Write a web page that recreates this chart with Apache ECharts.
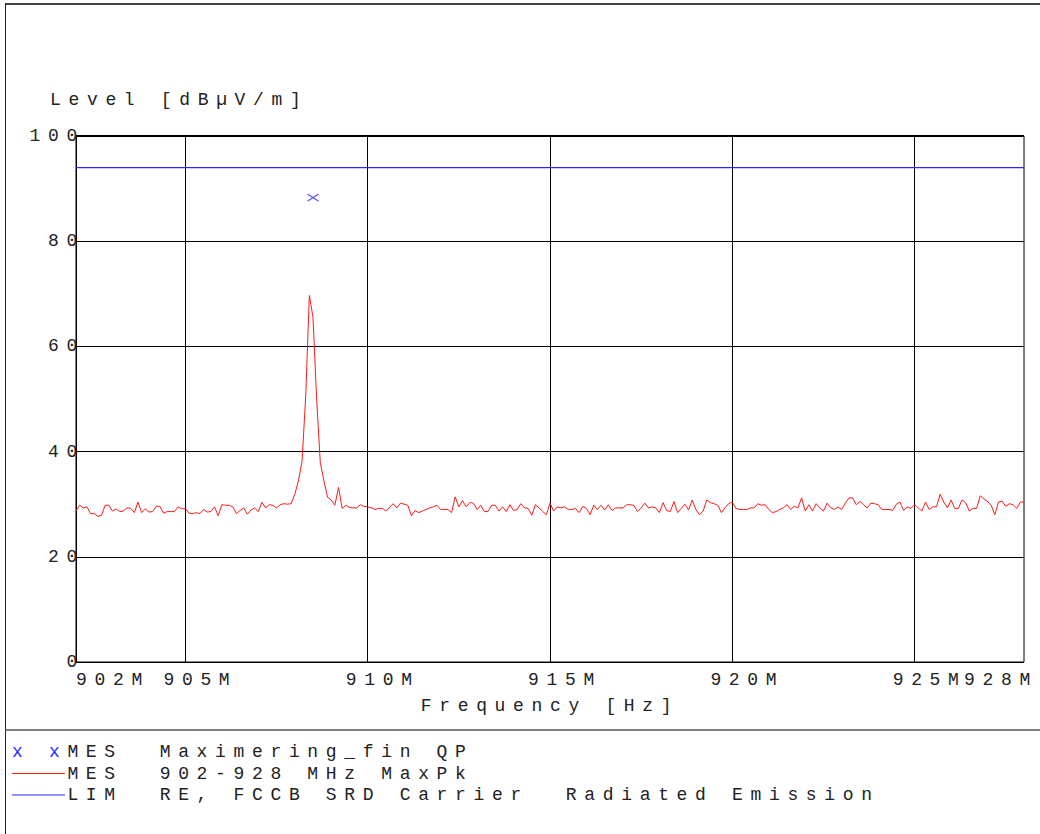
<!DOCTYPE html>
<html>
<head>
<meta charset="utf-8">
<script src="https://cdn.jsdelivr.net/npm/echarts@6/dist/echarts.min.js"></script>
<style>
  html, body { margin: 0; padding: 0; background: #fff; }
  #chart { width: 1040px; height: 834px; }
  /* plotter-style wide monospace lettering */
  #chart svg text { letter-spacing: 7.66px; white-space: pre; }
</style>
</head>
<body>
<div id="chart"></div>
<script>
// Sweep: 902.0 .. 928.0 MHz in 0.1 MHz steps, MaxPk level in dBµV/m
const sweepStartMHz = 902.0;
const sweepStepMHz = 0.1;
const maxPkLevels = [
  28.7, 29.8, 29.3, 29.5, 28.2, 28.2, 27.7, 27.9, 29.8, 29.8,
  28.7, 29.1, 28.6, 28.7, 29.3, 29.2, 28.4, 30.4, 28.4, 29.1,
  28.5, 28.6, 29.6, 29.6, 28.3, 28.6, 28.6, 28.6, 29.5, 29.1,
  29.2, 28.3, 28.2, 28.4, 28.2, 29.0, 28.5, 28.6, 29.5, 27.8,
  29.9, 29.8, 29.8, 29.5, 28.2, 28.8, 29.3, 28.1, 28.9, 29.3,
  28.6, 30.4, 29.3, 29.9, 29.8, 29.3, 29.9, 30.1, 30.0, 30.1,
  31.9, 34.4, 38.2, 50.5, 69.7, 65.5, 50.0, 37.9, 34.4, 31.3,
  30.8, 29.8, 33.2, 29.2, 29.8, 29.4, 29.3, 29.3, 29.9, 29.6,
  29.5, 29.3, 29.0, 29.2, 29.2, 28.7, 29.4, 30.1, 29.3, 30.2,
  30.0, 29.8, 27.8, 28.8, 28.4, 28.7, 29.0, 29.3, 29.5, 29.8,
  29.0, 29.0, 29.0, 28.4, 31.4, 29.5, 30.7, 29.5, 30.3, 30.2,
  29.0, 29.8, 28.6, 28.6, 29.8, 29.8, 28.7, 29.5, 28.6, 29.9,
  28.8, 29.0, 30.1, 29.3, 29.2, 27.9, 29.9, 29.3, 28.6, 28.0,
  30.2, 28.7, 29.5, 29.3, 29.5, 29.0, 29.0, 29.2, 28.4, 29.6,
  29.2, 28.0, 29.8, 29.0, 29.8, 28.9, 29.9, 28.8, 29.3, 29.3,
  29.3, 29.9, 29.9, 29.8, 28.6, 29.3, 30.2, 29.3, 29.5, 29.3,
  28.4, 30.3, 28.8, 28.6, 30.5, 28.4, 29.2, 30.0, 28.9, 30.8,
  29.0, 28.0, 28.7, 30.8, 30.3, 30.1, 29.8, 28.4, 29.3, 30.1,
  30.4, 29.2, 29.0, 29.0, 29.0, 29.3, 29.3, 30.1, 29.8, 29.9,
  29.0, 28.4, 28.6, 29.0, 29.3, 29.9, 29.0, 29.6, 29.3, 31.2,
  28.7, 29.9, 28.7, 30.1, 29.3, 28.7, 30.2, 29.3, 29.0, 29.5,
  29.0, 30.2, 31.2, 31.2, 29.9, 30.5, 29.9, 29.3, 30.2, 30.1,
  29.9, 29.0, 29.0, 29.0, 28.8, 30.0, 30.4, 28.8, 29.5, 29.2,
  29.9, 29.3, 28.7, 30.4, 29.0, 29.5, 29.5, 31.9, 30.4, 29.3,
  30.8, 29.2, 29.2, 30.8, 30.3, 28.7, 29.2, 29.2, 31.6, 31.0,
  30.5, 29.8, 28.0, 30.4, 30.6, 29.6, 30.1, 29.9, 29.2, 30.4,
  30.4
];

// Limit line (RE, FCCB SRD Carrier)
const limitFreqs = [902, 928];
const limitLevels = [94, 94];

// Final quasi-peak measurement
const qpFreqs = [908.5];
const qpLevels = [88.3];

// Axis ticks
const freqEdgeLow = [902];
const freqInner = [905, 910, 915, 920, 925];
const freqEdgeHigh = [928];
const levelMin = 0, levelMax = 100, levelStep = 20;

// Legend rows
const legendTags = ['MES', 'MES', 'LIM'];
const legendNames = ['Maximering_fin QP', '902-928 MHz MaxPk', 'RE, FCCB SRD Carrier  Radiated Emission'];

const FONT = '"Liberation Mono", "DejaVu Sans Mono", monospace';
const INK = '#222';
const RED = '#ff1a1a';
const BLUE = '#2a2aff';

const traceData = maxPkLevels.map((v, i) => [+(sweepStartMHz + i * sweepStepMHz).toFixed(1), v]);
const limitData = limitFreqs.map((f, i) => [f, limitLevels[i]]);
const qpData = qpFreqs.map((f, i) => [f, qpLevels[i]]);

const labelBase = { color: INK, fontFamily: FONT, fontSize: 18, margin: 9,
  showMinLabel: true, showMaxLabel: true, formatter: v => v + 'M' };

function freqAxis(values, labelExtra, extra) {
  return Object.assign({
    type: 'value', min: 902, max: 928, position: 'bottom', gridIndex: 0,
    axisLine: { show: false },
    axisTick: { show: false, customValues: values },
    splitLine: { show: false },
    axisLabel: Object.assign({ customValues: values }, labelBase, labelExtra)
  }, extra || {});
}

const chart = echarts.init(document.getElementById('chart'), null, { renderer: 'svg', width: 1040, height: 834 });

// legend block below the chart
const rowY = [752, 773.5, 795];
const pitch = 18.46;
const legendGraphics = [];
legendTags.forEach((tag, r) => {
  if (r === 0) {
    legendGraphics.push({ type: 'text', x: 12, y: rowY[r],
      style: { text: 'x x', x: 0, y: 0, fill: BLUE, font: '18px ' + FONT, verticalAlign: 'middle', align: 'left' } });
  } else {
    legendGraphics.push({ type: 'line', shape: { x1: 12, y1: rowY[r], x2: 65, y2: rowY[r] },
      style: { stroke: r === 1 ? RED : BLUE, lineWidth: 1.2 } });
  }
  legendGraphics.push({ type: 'text', x: 12 + 3 * pitch, y: rowY[r],
    style: { text: tag, x: 0, y: 0, fill: INK, font: '18px ' + FONT, verticalAlign: 'middle', align: 'left' } });
  legendGraphics.push({ type: 'text', x: 12 + 8 * pitch, y: rowY[r],
    style: { text: legendNames[r], x: 0, y: 0, fill: INK, font: '18px ' + FONT, verticalAlign: 'middle', align: 'left' } });
});

chart.setOption({
  animation: false,
  backgroundColor: '#fff',
  title: {
    text: 'Level [dBµV/m]', left: 50, top: 91, padding: 0,
    textStyle: { fontFamily: FONT, fontSize: 18, fontWeight: 'normal', color: INK }
  },
  grid: {
    left: 76, right: 16, top: 136, bottom: 172,
    show: true, borderColor: '#000', borderWidth: 1, backgroundColor: 'transparent',
    outerBoundsMode: 'none', containLabel: false
  },
  xAxis: [
    freqAxis(freqEdgeLow, { align: 'left' }),
    freqAxis(freqInner, { padding: [0, 0, 0, 30] }, {
      splitLine: { show: true, lineStyle: { color: '#000', width: 1 } },
      name: 'Frequency [Hz]', nameLocation: 'middle', nameGap: 35,
      nameTextStyle: { color: INK, fontFamily: FONT, fontSize: 18 }
    }),
    freqAxis(freqEdgeHigh, { padding: [0, 46, 0, 0] })
  ],
  yAxis: {
    type: 'value', min: levelMin, max: levelMax, interval: levelStep,
    axisLine: { show: true, lineStyle: { color: '#000', width: 1 } },
    axisTick: { show: false },
    splitLine: { show: true, lineStyle: { color: '#000', width: 1 } },
    axisLabel: { color: INK, fontFamily: FONT, fontSize: 18, margin: -9, align: 'right' }
  },
  series: [
    {
      name: legendNames[1], type: 'line', xAxisIndex: 1, data: traceData,
      showSymbol: false, symbol: 'none', silent: true,
      lineStyle: { color: RED, width: 1 }, z: 3
    },
    {
      name: legendNames[2], type: 'line', xAxisIndex: 1, data: limitData,
      showSymbol: false, symbol: 'none', silent: true,
      lineStyle: { color: BLUE, width: 1.2 }, z: 4
    },
    {
      name: legendNames[0], type: 'scatter', xAxisIndex: 1, data: qpData,
      symbol: 'path://M0,0L11,7M11,0L0,7', symbolSize: [11, 7],
      itemStyle: { color: BLUE, borderColor: BLUE, borderWidth: 1.2 }, z: 5
    }
  ],
  graphic: [
    { type: 'line', shape: { x1: 5, y1: 4, x2: 1040, y2: 4 }, style: { stroke: '#444', lineWidth: 2 } },
    { type: 'line', shape: { x1: 5.5, y1: 3, x2: 5.5, y2: 834 }, style: { stroke: '#222', lineWidth: 1 } },
    { type: 'line', shape: { x1: 5, y1: 730, x2: 1040, y2: 730 }, style: { stroke: '#555', lineWidth: 1.5 } },
    { type: 'line', shape: { x1: 76, y1: 135.5, x2: 1024, y2: 135.5 }, style: { stroke: '#000', lineWidth: 1 } }
  ].concat(legendGraphics)
});
</script>
</body>
</html>
